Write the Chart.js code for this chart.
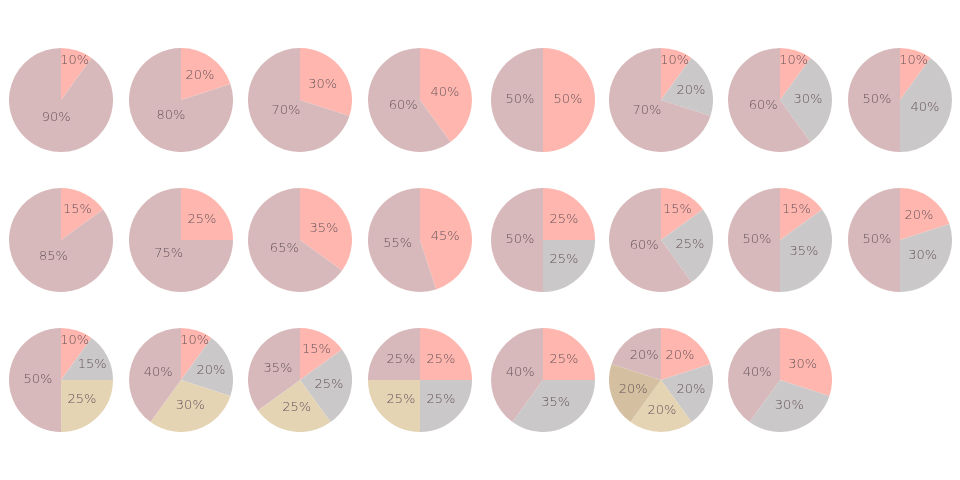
<!DOCTYPE html>
<html>
<head>
<meta charset="utf-8">
<script src="https://cdn.jsdelivr.net/npm/chart.js@4/dist/chart.umd.min.js"></script>
<style>
  html, body { margin: 0; padding: 0; background: #fff; }
  #wrap { position: relative; width: 960px; height: 480px; }
  .pie { position: absolute; width: 104px; height: 104px; }
</style>
</head>
<body>
<div id="wrap"></div>
<script>
// percentages per pie, slices run clockwise from 12 o'clock
const row1 = [[10, 90], [20, 80], [30, 70], [40, 60], [50, 50], [10, 20, 70], [10, 30, 60], [10, 40, 50]]
const row2 = [[15, 85], [25, 75], [35, 65], [45, 55], [25, 25, 50], [15, 25, 60], [15, 35, 50], [20, 30, 50]]
const row3 = [[10, 15, 25, 50], [10, 20, 30, 40], [15, 25, 25, 35], [25, 25, 25, 25], [25, 35, 40], [20, 20, 20, 20, 20], [30, 30, 40]]

// first slices take these in order, the last slice is always mauve
const sliceColors = ['#ffb6ae', '#cac8c8', '#e4d4b4', '#d4c0a0']
const lastColor = '#d8b9bb'
const labelColor = '#67555c'

// pie centres on the page
const colX = [61, 181, 300, 420, 543, 661, 780, 900]
const rowY = [100, 239.5, 380]

// how far from the centre a label sits, as part of the radius
const labelDistance = (share) => {
  if (share > 0.57) return 0.36
  return Math.min(0.8, 0.379 + 0.0411 / share)
}

const pieLabels = {
  id: 'pieLabels',
  afterDatasetsDraw(chart) {
    const ctx = chart.ctx
    const meta = chart.getDatasetMeta(0)
    const values = chart.data.datasets[0].data
    const total = values.reduce((a, b) => a + b, 0)
    ctx.save()
    ctx.font = '200 13px "DejaVu Sans", sans-serif'
    ctx.fillStyle = labelColor
    ctx.textAlign = 'center'
    ctx.textBaseline = 'middle'
    meta.data.forEach((arc, i) => {
      const p = arc.getProps(['x', 'y', 'startAngle', 'endAngle', 'outerRadius'], true)
      const mid = (p.startAngle + p.endAngle) / 2
      const d = labelDistance(values[i] / total) * p.outerRadius
      ctx.fillText(values[i] + '%', p.x + Math.cos(mid) * d + 1, p.y + Math.sin(mid) * d)
    })
    ctx.restore()
  }
}

const wrap = document.getElementById('wrap')
const rows = [row1, row2, row3]

rows.forEach((row, r) => {
  row.forEach((values, c) => {
    const box = document.createElement('div')
    box.className = 'pie'
    box.style.left = (colX[c] - 52) + 'px'
    box.style.top = (rowY[r] - 52) + 'px'
    const canvas = document.createElement('canvas')
    box.appendChild(canvas)
    wrap.appendChild(box)

    const colors = values.map((v, i) => i === values.length - 1 ? lastColor : sliceColors[i])
    new Chart(canvas.getContext('2d'), {
      type: 'pie',
      data: {
        labels: values.map(v => v + '%'),
        datasets: [{
          data: values,
          backgroundColor: colors,
          borderWidth: 0,
          hoverOffset: 0
        }]
      },
      options: {
        responsive: true,
        maintainAspectRatio: false,
        animation: false,
        events: [],
        layout: { padding: 0 },
        plugins: {
          legend: { display: false },
          tooltip: { enabled: false }
        }
      },
      plugins: [pieLabels]
    })
  })
})
</script>
</body>
</html>
